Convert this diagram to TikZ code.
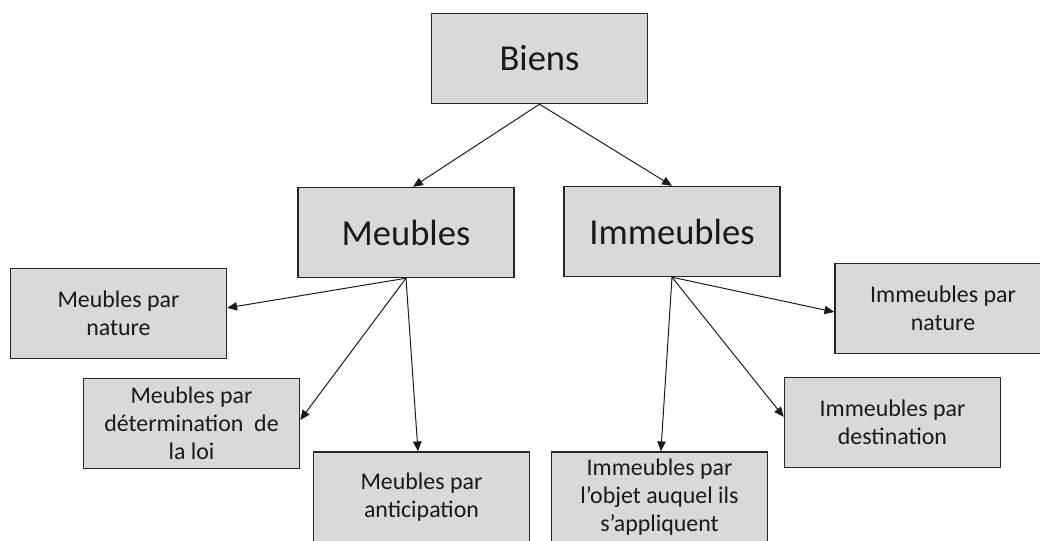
\documentclass[tikz,border=0pt]{standalone}
\usepackage{fontspec}
\setmainfont{Carlito}
\usetikzlibrary{arrows.meta}
\definecolor{boxgray}{RGB}{217,217,217}
\tikzset{
    box/.style={draw=black!85, line width=1pt, fill=boxgray, text=black!90,
        minimum width=5.4cm, minimum height=2.25cm, align=center, inner sep=2pt},
    bigbox/.style={box, font=\fontsize{26}{30}\selectfont},
    smallbox/.style={box, font=\fontsize{17}{20}\selectfont},
    link/.style={-{Triangle[length=7pt,width=6pt]}, line width=0.7pt, black!90}
}

\begin{document}
\begin{tikzpicture}[x=0.025cm, y=-0.025cm]
        \useasboundingbox (0,0) rectangle (1040,540);
        % Top levels
        \node[bigbox] (biens) at (539.5,58.5) {Biens};
        \node[bigbox] (meubles) at (406,232.5) {Meubles};
        \node[bigbox] (immeubles) at (672,231.5) {Immeubles};

        % Meubles
        \node[smallbox] (mnature) at (118.5,313.5) {Meubles par\\nature};
        \node[smallbox] (mloi) at (191.5,423.5) {Meubles par\\détermination\ \ de\\la loi};
        \node[smallbox] (manticip) at (421.5,497) {Meubles par\\anticipation};

        % Immeubles
        \node[smallbox] (inature) at (943,308.5) {Immeubles par\\nature};
        \node[smallbox] (idest) at (892.5,422.5) {Immeubles par\\destination};
        \node[smallbox] (iobjet) at (659.5,497) {Immeubles par\\l’objet auquel ils\\s’appliquent};

        % Arrows
        \draw[link] (biens.south) -- ([xshift=5pt]meubles.north);
        \draw[link] (biens.south) -- (immeubles.north);
        \draw[link] (meubles.south) -- ([yshift=4pt]mnature.east);
        \draw[link] (meubles.south) -- ([yshift=2.5pt]mloi.east);
        \draw[link] (meubles.south) -- ([xshift=-2.5pt]manticip.north);
        \draw[link] (immeubles.south) -- ([yshift=-2.5pt]inature.west);
        \draw[link] (immeubles.south) -- ([yshift=4pt]idest.west);
        \draw[link] (immeubles.south) -- ([xshift=1pt]iobjet.north);
\end{tikzpicture}
\end{document}
